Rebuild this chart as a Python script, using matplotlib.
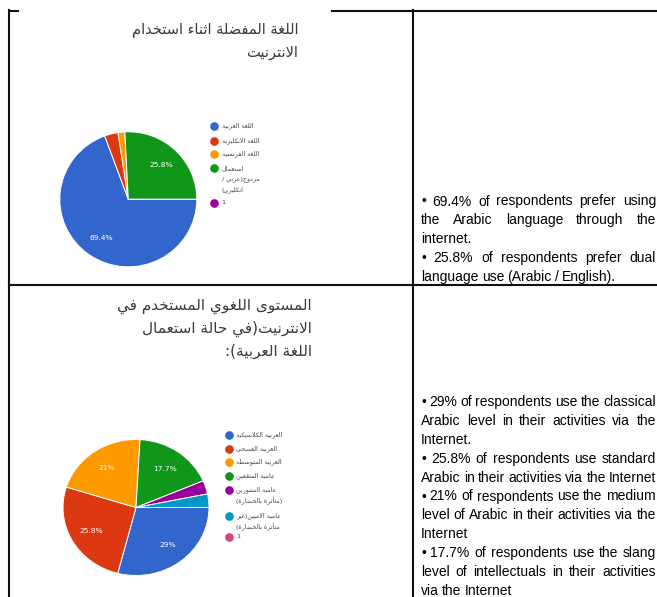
import matplotlib
matplotlib.use('Agg')
import matplotlib.pyplot as plt
from matplotlib.lines import Line2D
from matplotlib import font_manager

# data
lang_title = ['اللغة المفضلة اثناء استخدام', 'الانترنيت']
lang_labels = ['اللغة العربية', 'اللغة الانكليزية', 'اللغة الفرنسية',
               'استعمال\nمزدوج(عربي /\nانكليزي)', '1']
lang_share = [69.4, 3.2, 1.6, 25.8, 0]

level_title = ['المستوى اللغوي المستخدم في', 'الانترنيت(في حالة استعمال', 'اللغة العربية):']
level_labels = ['العربية الكلاسيكية', 'العربية الفصحى', 'العربية المتوسطة', 'عامية المثقفين',
                'عامية المتنورين\n(متأثرة بالحضارة)', 'عامية الاميين(غير\nمتأثرة بالحضارة)', '1']
level_share = [29, 25.8, 21, 17.7, 3.2, 3.2, 0]

colors = ['#3366cc', '#dc3912', '#ff9900', '#109618', '#990099', '#0099c6', '#dd4477']

notes_1 = ['• 69.4% of respondents prefer using', 'the Arabic language through the', 'internet.',
           '• 25.8% of respondents prefer dual', 'language use (Arabic / English).']
just_1 = [True, True, False, True, False]
notes_2 = ['• 29% of respondents use the classical', 'Arabic level in their activities via the',
           'Internet.', '• 25.8% of respondents use standard',
           'Arabic in their activities via the Internet', '• 21% of respondents use the medium',
           'level of Arabic in their activities via the', 'Internet',
           '• 17.7% of respondents use the slang', 'level of intellectuals in their activities',
           'via the Internet']
just_2 = [True, True, False, True, False, True, True, False, True, True, False]

# --- minimal arabic shaping (presentation forms + right-to-left order)
seq = [('ء', 1), ('آ', 2), ('أ', 2), ('ؤ', 2), ('إ', 2), ('ئ', 4), ('ا', 2), ('ب', 4), ('ة', 2),
       ('ت', 4), ('ث', 4), ('ج', 4), ('ح', 4), ('خ', 4), ('د', 2), ('ذ', 2), ('ر', 2), ('ز', 2),
       ('س', 4), ('ش', 4), ('ص', 4), ('ض', 4), ('ط', 4), ('ظ', 4), ('ع', 4), ('غ', 4), ('ف', 4),
       ('ق', 4), ('ك', 4), ('ل', 4), ('م', 4), ('ن', 4), ('ه', 4), ('و', 2), ('ى', 2), ('ي', 4)]
FORMS = {}
cp = 0xFE80
for ch, n in seq:
    FORMS[ch] = (cp, n)
    cp += n
LAMALEF = {'آ': 0xFEF5, 'أ': 0xFEF7, 'إ': 0xFEF9, 'ا': 0xFEFB}
MIRROR = {'(': ')', ')': '('}


def shape_line(s):
    units = []
    i = 0
    while i < len(s):
        c = s[i]
        if c == 'ل' and i + 1 < len(s) and s[i + 1] in LAMALEF:
            units.append((LAMALEF[s[i + 1]], 2))
            i += 2
            continue
        units.append(FORMS.get(c, (c, 0)))
        i += 1
    out = []
    for k, (base, n) in enumerate(units):
        if n == 0:
            out.append(MIRROR.get(base, base))
            continue
        prev = k > 0 and units[k - 1][1] == 4
        nxt = n == 4 and k + 1 < len(units) and units[k + 1][1] >= 2
        if n == 1:
            idx = 0
        elif n == 2:
            idx = 1 if prev else 0
        else:
            idx = {(False, False): 0, (True, False): 1, (False, True): 2, (True, True): 3}[(prev, nxt)]
        out.append(chr(base + idx))
    return ''.join(reversed(out))


W, H = 657, 597
fig = plt.figure(figsize=(W / 100, H / 100), dpi=100)


def fx(x):
    return x / W


def fy(y):
    return 1 - y / H


AR = 'DejaVu Sans'
try:
    font_manager.findfont('Liberation Sans Narrow', fallback_to_default=False)
    EN = 'Liberation Sans Narrow'
except Exception:
    EN = 'Liberation Sans'

# table rules
rule = dict(color='#111111', lw=1.5, transform=fig.transFigure)
for xs, ys in [((8.5, 8.5), (10, 597)), ((8.5, 18), (10.5, 10.5)), ((332, 657), (10.5, 10.5)),
               ((413, 413), (10, 597)), ((8.5, 657), (285, 285))]:
    fig.add_artist(Line2D([fx(x) for x in xs], [fy(y) for y in ys], **rule))


def pct(p):
    if p < 5:
        return ''
    return ('%.1f' % p).replace('.0', '') + '%'


def draw_pie(vals, cx, cy, rx, ry):
    ax = fig.add_axes([fx(cx - rx), fy(cy + ry), 2 * rx / W, 2 * ry / H])
    ax.pie(vals, colors=colors[:len(vals)], startangle=0, counterclock=False,
           wedgeprops=dict(edgecolor='white', linewidth=0.7), autopct=pct, pctdistance=0.7,
           textprops=dict(color='white', fontsize=5.4, family='DejaVu Sans'))
    ax.set_aspect('auto')
    ax.set_xlim(-1, 1)
    ax.set_ylim(-1, 1)
    ax.axis('off')


def draw_legend(labels, x, ys, lh):
    for lab, y, c in zip(labels, ys, colors):
        fig.add_artist(Line2D([fx(x)], [fy(y)], marker='o', ms=5.2, color=c, lw=0,
                              transform=fig.transFigure))
        for k, part in enumerate(lab.split('\n')):
            fig.text(fx(x + 7.5), fy(y + k * lh), shape_line(part), ha='left', va='center',
                     fontsize=4.6, color='#444444', family=AR)


def draw_title(lines, xr, y0, lh, size):
    for k, part in enumerate(lines):
        fig.text(fx(xr), fy(y0 + k * lh), shape_line(part), ha='right', va='center',
                 fontsize=size, color='#3a3a3a', family=AR)


draw_title(lang_title, 298, 30, 22, 10.5)
draw_pie(lang_share, 128.3, 199.3, 68.5, 67.5)
draw_legend(lang_labels, 214, [126, 140.5, 154, 168, 203], 11)

draw_title(level_title, 312, 306, 22.8, 11)
draw_pie(level_share, 136, 507.5, 73, 68)
draw_legend(level_labels, 229, [435, 448.5, 462, 475.5, 490, 516, 537], 10.5)

# notes in the right column, justified like the word document
renderer = fig.canvas.get_renderer()


def draw_notes(lines, flags, y0, lh, x0=421, x1=656):
    for k, (line, just) in enumerate(zip(lines, flags)):
        words = line.split(' ')
        y = fy(y0 + k * lh + 5)
        texts = [fig.text(0, y, w, ha='left', va='baseline', fontsize=10, color='#000000',
                          family=EN) for w in words]
        widths = [t.get_window_extent(renderer).width for t in texts]
        if just and len(words) > 1:
            gap = (x1 - x0 - sum(widths)) / (len(words) - 1)
        else:
            gap = 3.3
        x = x0
        for t, w in zip(texts, widths):
            t.set_x(fx(x))
            x += w + gap


draw_notes(notes_1, just_1, 200.5, 18.8)
draw_notes(notes_2, just_2, 401, 18.9)

fig.savefig('out.png', dpi=100)
